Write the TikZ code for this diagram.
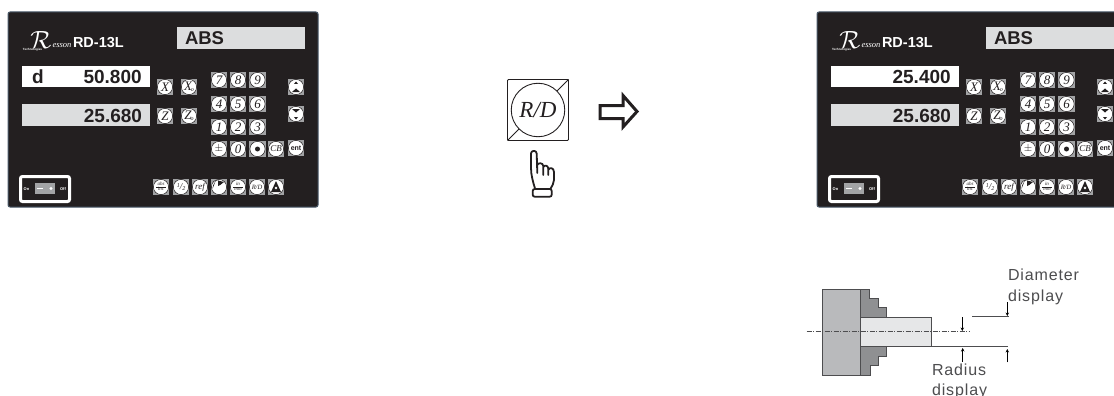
\documentclass[tikz,border=0pt]{standalone}
\usepackage{fontspec}
\setmainfont{Liberation Sans}
\newfontfamily\serifit[ItalicFont={Liberation Serif Italic}]{Liberation Serif}
\newfontfamily\spaced[LetterSpace=5.5]{Liberation Sans}
\definecolor{panelbg}{HTML}{231F20}
\definecolor{paneledge}{HTML}{4A5A6A}
\definecolor{dispgray}{HTML}{DCDDDE}
\definecolor{keygray}{HTML}{A2A3A5}
\definecolor{chuck}{HTML}{B9BABC}
\definecolor{jaw}{HTML}{8F9092}
\definecolor{work}{HTML}{E6E7E8}
\definecolor{linegray}{HTML}{4D4D4F}
\newcommand{\fs}[1]{\fontsize{#1}{#1}\selectfont}
\newcommand{\keyfrac}[2]{\fs{5}\begin{tabular}{@{}c@{}}#1\\[.6pt]#2\end{tabular}}
\tikzset{
  x=1pt,y=-1pt,
  plain/.style={inner sep=0pt,outer sep=0pt},
  keysq/.style={plain,fill=keygray,minimum size=16.5pt},
  keycirc/.style={plain,circle,fill=white,draw=panelbg,line width=.5pt,minimum size=15.2pt,text=panelbg},
  disptext/.style={plain,font=\bfseries\fs{19},text=panelbg},
  body/.style={draw=linegray,line width=.9pt},
  thinarrow/.style={draw=black,line width=.7pt,-{Stealth[length=3.5pt,width=3.5pt]}},
  label/.style={plain,anchor=base west,font=\spaced\fs{16},text=linegray},
}
\usetikzlibrary{arrows.meta}
\newcommand{\dro}[4]{%
\begin{scope}[shift={(#2,0)}]
  \node[plain,fill=panelbg,draw=paneledge,line width=1pt,rounded corners=2pt,minimum width=310pt,minimum height=195pt] (#1panel) at (163,109.5) {};
  % logo
  \node[plain,anchor=base,text=white,font=\fs{38}] (#1logoR) at (41,49) {$\mathcal{R}$};
  \node[plain,anchor=base west,text=white,font=\serifit\itshape\fs{8.5}] (#1logoE) at (52.5,47.5) {esson};
  \node[plain,anchor=base west,text=white,font=\bfseries\fs{3}] (#1logoT) at (23,50.5) {Technologies};
  \node[plain,anchor=base west,text=white,font=\bfseries\fs{14.5}] (#1model) at (73,48) {RD-13L};
  % mode and displays
  \node[plain,fill=dispgray,minimum width=128pt,minimum height=21.5pt] (#1mode) at (241,37.8) {};
  \node[plain,anchor=base west,font=\bfseries\fs{18.5},text=panelbg] (#1modetxt) at (185,45) {ABS};
  \node[plain,fill=white,minimum width=128pt,minimum height=21pt] (#1dispa) at (86,76.5) {};
  \node[plain,fill=dispgray,minimum width=128pt,minimum height=21.5pt] (#1dispb) at (86,115) {};
  \node[disptext,anchor=base east] (#1vala) at (141.7,84) {#4};
  \node[disptext,anchor=base east] (#1valb) at (142,122.5) {25.680};
  \node[disptext,anchor=base west] (#1letter) at (32,84) {#3};
  % keys
  \foreach \kn/\kx/\ky/\kt in {
    kX/165/87/X, kXo/189/87/{X\kern-1pt\raisebox{-1pt}{\fs{6}o}}, kZ/165/116/Z, kZo/189/116/{Z\kern-1pt\raisebox{-1pt}{\fs{6}o}},
    k7/219/80/7, k8/238/80/8, k9/257.5/80/9,
    k4/219/104/4, k5/238/104/5, k6/257.5/104/6,
    k1/219/127/1, k2/238/127/2, k3/257.5/127/3,
    kz/238/149/0, kc/276/149/{\fs{9}CB}}{
    \node[keysq] (#1\kn s) at (\kx,\ky) {};
    \node[keycirc,font=\serifit\itshape\fs{13}] (#1\kn) at (\kx,\ky) {\kt};
  }
  \node[keysq] (#1kpms) at (219,149) {};
  \node[keycirc,font=\fs{11}] (#1kpm) at (219,149) {$\pm$};
  \node[keysq] (#1kdots) at (257.5,149) {};
  \node[keycirc] (#1kdot) at (257.5,149) {};
  \fill[panelbg] (#1kdot.center) circle (2.5pt);
  \node[keysq] (#1kents) at (296,148) {};
  \node[keycirc,fill=white,font=\bfseries\fs{7}] (#1kent) at (296,148) {ent};
  \node[keysq] (#1kups) at (296,87) {};
  \node[keycirc] (#1kup) at (296,87) {};
  \fill[panelbg] ([xshift=-2pt,yshift=3pt]#1kup.center) -- ([xshift=2pt,yshift=3pt]#1kup.center) -- ([yshift=5.5pt]#1kup.center) -- cycle;
  \fill[panelbg] ([xshift=-4pt,yshift=-5pt]#1kup.center) -- ([xshift=4pt,yshift=-5pt]#1kup.center) -- ([yshift=-1.5pt]#1kup.center) -- cycle;
  \node[keysq] (#1kdns) at (296,114) {};
  \node[keycirc] (#1kdn) at (296,114) {};
  \fill[panelbg] ([xshift=-2pt,yshift=-3pt]#1kdn.center) -- ([xshift=2pt,yshift=-3pt]#1kdn.center) -- ([yshift=-5.5pt]#1kdn.center) -- cycle;
  \fill[panelbg] ([xshift=-4pt,yshift=5pt]#1kdn.center) -- ([xshift=4pt,yshift=5pt]#1kdn.center) -- ([yshift=1.5pt]#1kdn.center) -- cycle;
  % bottom row
  \foreach \kn/\kx/\kt in {
    babs/161/{\keyfrac{abs}{inc}},
    bhalf/181/{\fs{9}\raisebox{1.5pt}{\fs{6}1}/\raisebox{-1pt}{\fs{6}2}},
    bref/200/{\fs{9}ref},
    bin/238/{\keyfrac{in}{mm}},
    brd/257/{\fs{6.5}R/D}}{
    \node[keysq] (#1\kn s) at (\kx,187) {};
    \node[keycirc,font=\serifit\itshape] (#1\kn) at (\kx,187) {\kt};
  }
  \draw[panelbg,line width=.7pt] ([xshift=-5pt]#1babs.center) -- ([xshift=5pt]#1babs.center);
  \draw[panelbg,line width=.7pt] ([xshift=-5pt]#1bin.center) -- ([xshift=5pt]#1bin.center);
  \node[keysq] (#1bcurs) at (219,187) {};
  \node[keycirc] (#1bcur) at (219,187) {};
  \fill[panelbg] ([xshift=-6.5pt,yshift=-2pt]#1bcur.center) .. controls ([xshift=-6pt,yshift=5pt]#1bcur.center) and ([xshift=-2pt,yshift=7pt]#1bcur.center) .. ([xshift=-1pt,yshift=7pt]#1bcur.center) -- ([xshift=-1pt,yshift=1pt]#1bcur.center) .. controls ([xshift=1pt,yshift=1pt]#1bcur.center) and ([xshift=2pt,yshift=3pt]#1bcur.center) .. ([xshift=5pt,yshift=5pt]#1bcur.center) -- ([xshift=-3pt,yshift=7pt]#1bcur.center) -- cycle;
  \node[keysq] (#1btris) at (276,187) {};
  \node[keycirc] (#1btri) at (276,187) {};
  \fill[panelbg,even odd rule] ([yshift=6pt]#1btri.center) -- ([xshift=-5pt,yshift=-5pt]#1btri.center) -- ([xshift=5pt,yshift=-5pt]#1btri.center) -- cycle ([yshift=-1pt]#1btri.center) circle (1.6pt);
  % switch
  \node[plain,draw=white,line width=3pt,rounded corners=2pt,minimum width=49pt,minimum height=25pt] (#1sw) at (45,189) {};
  \node[plain,fill=keygray,minimum width=20pt,minimum height=11pt] (#1swin) at (45,188.5) {};
  \fill[white] (37,187.7) rectangle (43,189.3);
  \fill[white] (51,188.5) circle (1.6pt);
  \node[plain,text=white,font=\bfseries\fs{4}] (#1on) at (26.5,189) {On};
  \node[plain,text=white,font=\bfseries\fs{4}] (#1off) at (63,189) {Off};
\end{scope}}
\begin{document}
\begin{tikzpicture}
\clip (0,0) rectangle (1114,396);
\fill[white] (0,0) rectangle (1114,396);
\dro{a}{0}{d}{50.800}
\dro{b}{809}{}{25.400}
% R/D key
\node[plain,draw=panelbg,line width=.9pt,rounded corners=1pt,minimum size=61pt] (rdbox) at (538,110) {};
\draw[panelbg,line width=.9pt] (rdbox.north east) -- (rdbox.south west);
\node[plain,circle,fill=white,draw=panelbg,line width=.9pt,minimum size=53.5pt,font=\serifit\itshape\fs{23},text=panelbg] (rd) at (538,110) {R/D};
% arrow
\draw[panelbg,line width=3pt,miter limit=10] (600,105.5) -- (623,105.5) -- (623,95.5) -- (637,111.5) -- (623,127) -- (623,118.5) -- (600,118.5) -- cycle;
% hand
\draw[panelbg,line width=1.8pt,line join=round,line cap=round]
  (535,188.5) .. controls (533,182) and (531,175) .. (531,168) -- (531,153.5)
  .. controls (531,150) and (536.7,150) .. (536.7,153.5) -- (537.3,173)
  (537.3,165) .. controls (538,162.5) and (543,162.5) .. (543.3,166) -- (543.3,175)
  (543.3,167) .. controls (544,165) and (548,165) .. (548.3,168.5) -- (548.3,175)
  (548.3,170) .. controls (549,167) and (554,167.5) .. (554,172) -- (554,180) .. controls (554,183) and (552,186) .. (550.7,188.5);
\draw[panelbg,line width=1.8pt,rounded corners=2pt] (532.7,189) rectangle (551.7,196.7);
% lathe
\draw[body,fill=chuck] (822,289) rectangle (860,375.3);
\draw[body,fill=jaw] (860,289) -- (869.3,289) -- (869.3,298.3) -- (878,298.3) -- (878,307.7) -- (886.7,307.7) -- (886.7,317.3) -- (860,317.3) -- cycle;
\draw[body,fill=jaw] (860,346.7) -- (886.7,346.7) -- (886.7,356.7) -- (878.7,356.7) -- (878.7,365.7) -- (870,365.7) -- (870,375.3) -- (860,375.3) -- cycle;
\draw[body,fill=work] (860,317.3) rectangle (931.7,346.7);
\draw[linegray,line width=.7pt,dash pattern=on 5pt off 1.5pt on 1pt off 1.5pt] (806.7,331.7) -- (970,331.7);
\draw[linegray,line width=1pt] (893,346.7) -- (1008,346.7);
\draw[linegray,line width=1pt] (972,316.7) -- (1009.3,316.7);
\draw[thinarrow] (962.3,317.3) -- (962.3,331);
\draw[thinarrow] (1007.3,302.3) -- (1007.3,316);
\draw[thinarrow] (962.7,361.7) -- (962.7,348);
\draw[thinarrow] (1007.3,362.3) -- (1007.3,349);
\node[label] (diam) at (1008,280.7) {Diameter};
\node[label] (ddisp) at (1008,301.7) {display};
\node[label] (rad) at (932,375) {Radius};
\node[label] (rdisp) at (932,395) {display};
\end{tikzpicture}
\end{document}
